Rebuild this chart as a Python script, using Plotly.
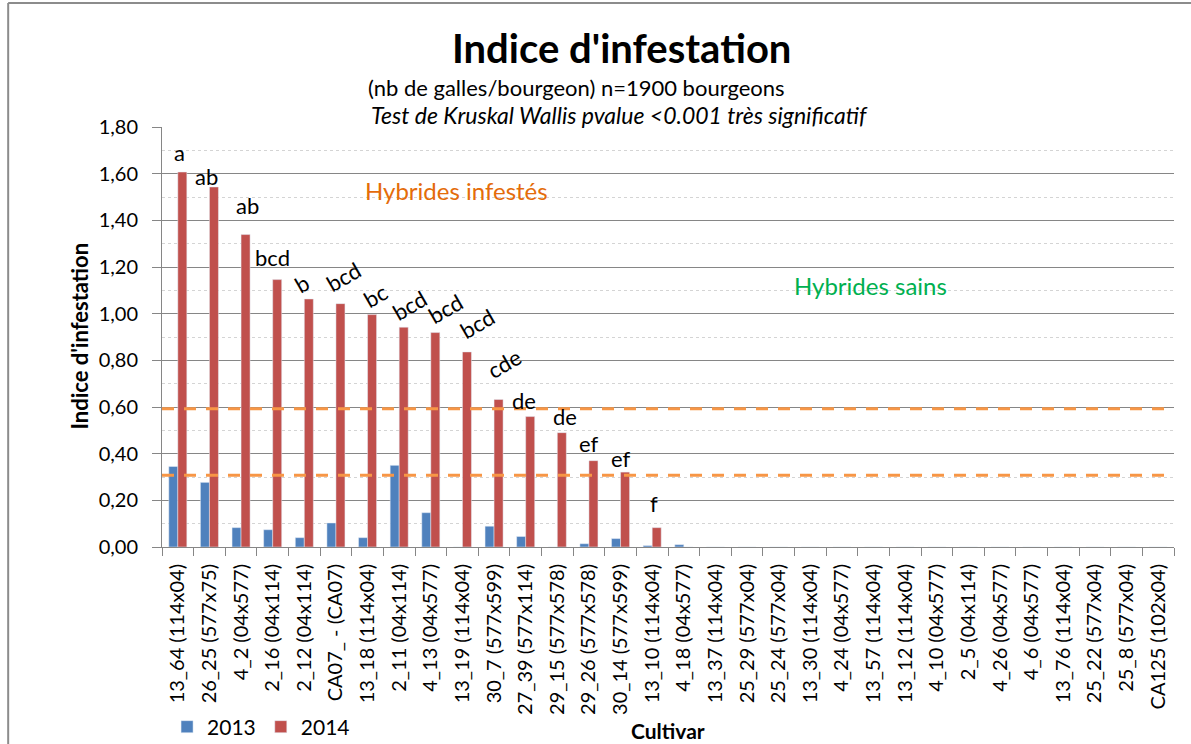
import plotly.graph_objects as go

cultivars = [
    "13_64 (114x04)", "26_25 (577x75)", "4_2 (04x577)", "2_16 (04x114)",
    "2_12 (04x114)", "CA07_ - (CA07)", "13_18 (114x04)", "2_11 (04x114)",
    "4_13 (04x577)", "13_19 (114x04)", "30_7 (577x599)", "27_39 (577x114)",
    "29_15 (577x578)", "29_26 (577x578)", "30_14 (577x599)", "13_10 (114x04)",
    "4_18 (04x577)", "13_37 (114x04)", "25_29 (577x04)", "25_24 (577x04)",
    "13_30 (114x04)", "4_24 (04x577)", "13_57 (114x04)", "13_12 (114x04)",
    "4_10 (04x577)", "2_5 (04x114)", "4_26 (04x577)", "4_6 (04x577)",
    "13_76 (114x04)", "25_22 (577x04)", "25_8 (577x04)", "CA125 (102x04)",
]
indice_2013 = [0.345, 0.277, 0.083, 0.074, 0.040, 0.103, 0.040, 0.350,
               0.147, 0.0, 0.089, 0.045, 0.0, 0.014, 0.036, 0.006,
               0.010, 0, 0, 0, 0, 0, 0, 0, 0, 0, 0, 0, 0, 0, 0, 0]
indice_2014 = [1.607, 1.543, 1.339, 1.146, 1.063, 1.043, 0.996, 0.942,
               0.919, 0.836, 0.632, 0.559, 0.490, 0.370, 0.321, 0.083,
               0, 0, 0, 0, 0, 0, 0, 0, 0, 0, 0, 0, 0, 0, 0, 0]
groupes = ["a", "ab", "ab", "bcd", "b", "bcd", "bc", "bcd", "bcd", "bcd",
           "cde", "de", "de", "ef", "ef", "f"]
seuils = [0.593, 0.307]

# placement des lettres (px) et inclinaison
lettre_dx = [2, -3, 6, 0, -2, 8, 8, 10, 15, 15, 10, -2, 8, 0, 0, 2]
lettre_dy = [20, 10, 29, 22, 15, 27, 19, 22, 24, 28, 36, 16, 16, 17, 14, 24]
lettre_angle = [0, 0, 0, 0, -30, -30, -30, -30, -30, -30, -30, 0, 0, 0, 0, 0]

police = "Lato"
fig = go.Figure()
fig.add_trace(go.Bar(x=cultivars, y=indice_2013, name="2013", marker_color="#4F81BD"))
fig.add_trace(go.Bar(x=cultivars, y=indice_2014, name="2014", marker_color="#C0504D"))

for s in seuils:
    fig.add_hline(y=s, line=dict(color="#F79646", width=3, dash="12px,10px"))

for i, g in enumerate(groupes):
    fig.add_annotation(x=cultivars[i], y=indice_2014[i], text=g, showarrow=False,
                       xshift=lettre_dx[i], yshift=lettre_dy[i], textangle=lettre_angle[i],
                       xanchor="center", yanchor="middle",
                       font=dict(size=22, color="black", family=police))


def texte(txt, x, y, taille, couleur="black", yref="paper", angle=0):
    fig.add_annotation(text=txt, x=x, y=y, xref="paper", yref=yref, showarrow=False,
                       xanchor="center", yanchor="middle", textangle=angle,
                       font=dict(size=taille, color=couleur, family=police))


texte("<b>Indice d'infestation</b>", 0.4536, 1.188, 40)
texte("(nb de galles/bourgeon) n=1900 bourgeons", 0.41, 1.093, 22)
texte("<i>Test de Kruskal Wallis pvalue &lt;0.001 très significatif</i>", 0.452, 1.029, 23)
texte("Hybrides infestés", 0.2915, 1.529, 24, "#E46C0A", yref="y")
texte("Hybrides sains", 0.70, 1.121, 24, "#00B050", yref="y")
texte("<b>Indice d'infestation</b>", -0.081, 0.501, 22, angle=-90)
texte("<b>Cultivar</b>", 0.5, -0.438, 21)

# cadre de la zone du graphique (bord gauche et haut)
fig.add_shape(type="line", xref="paper", yref="paper", x0=-0.152, x1=-0.152, y0=-0.5, y1=1.295,
              line=dict(color="#8C8C8C", width=2))
fig.add_shape(type="line", xref="paper", yref="paper", x0=-0.152, x1=1.02, y0=1.295, y1=1.295,
              line=dict(color="#8C8C8C", width=2))

fig.update_layout(
    width=1191, height=744,
    margin=dict(l=162, r=17, t=127, b=197, autoexpand=False),
    paper_bgcolor="white", plot_bgcolor="white",
    barmode="group", bargap=0.43, bargroupgap=0,
    separators=", ",
    font=dict(family=police, size=18, color="black"),
    legend=dict(orientation="h", x=0.005, y=-0.4286, xanchor="left", yanchor="middle",
                font=dict(size=21), bgcolor="rgba(0,0,0,0)"),
)
fig.update_xaxes(type="category", tickangle=-90, tickson="boundaries", ticks="outside", ticklen=8,
                 tickcolor="#868686", showline=True, linecolor="#868686", linewidth=1,
                 tickfont=dict(size=20), showgrid=False, ticklabelstandoff=8)
fig.update_yaxes(range=[0, 1.8], dtick=0.2, tickformat=".2f", ticks="outside", ticklen=9,
                 tickcolor="#868686", showline=True, linecolor="#868686", linewidth=1,
                 gridcolor="#868686", gridwidth=1, zeroline=False, tickfont=dict(size=20),
                 ticklabelstandoff=10,
                 minor=dict(dtick=0.1, showgrid=True, gridcolor="#D4D4D4", griddash="dot", ticks=""))

fig.write_html("out.html", config={"displayModeBar": False},
               post_script="document.body.style.margin='0';")
